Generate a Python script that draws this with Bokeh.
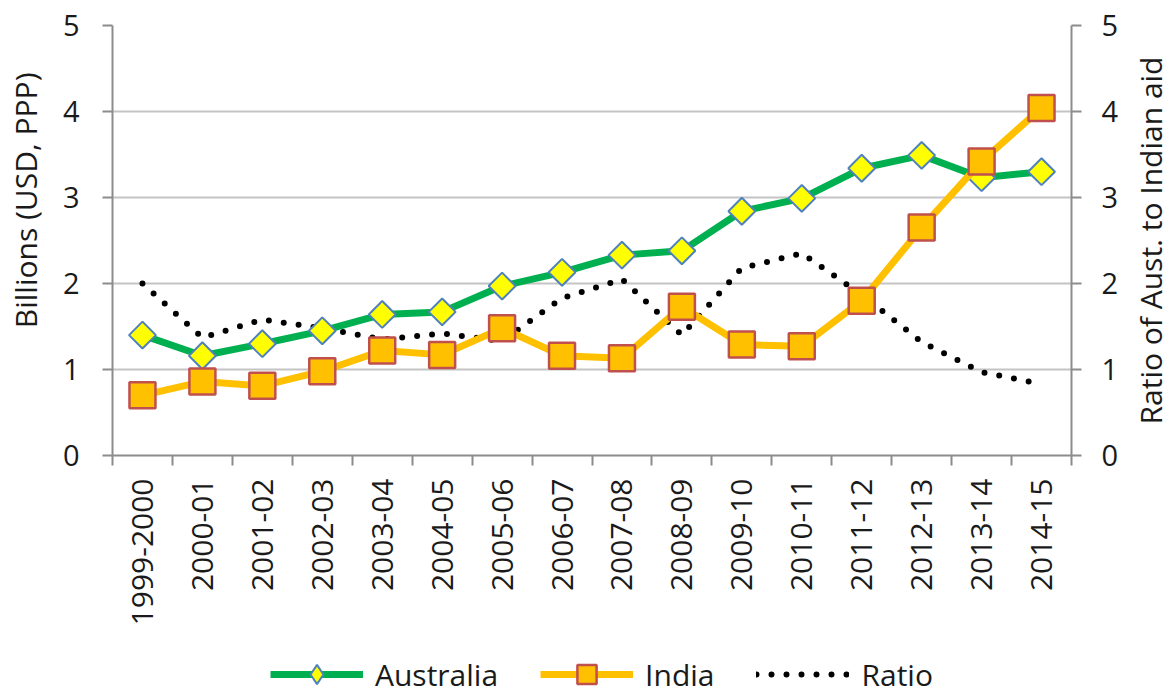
import math
from bokeh.plotting import figure
from bokeh.models import Range1d, LinearAxis, FixedTicker, Legend, LegendItem, Title
from bokeh.layouts import column, row
from bokeh.embed import file_html
from bokeh.resources import INLINE

years = ["1999-2000", "2000-01", "2001-02", "2002-03", "2003-04", "2004-05",
         "2005-06", "2006-07", "2007-08", "2008-09", "2009-10", "2010-11",
         "2011-12", "2012-13", "2013-14", "2014-15"]
australia = [1.40, 1.16, 1.30, 1.45, 1.64, 1.67, 1.97, 2.13, 2.33, 2.38,
             2.84, 2.99, 3.34, 3.49, 3.23, 3.30]
india = [0.70, 0.86, 0.81, 0.98, 1.22, 1.17, 1.48, 1.16, 1.13, 1.73,
         1.29, 1.27, 1.80, 2.65, 3.42, 4.04]
ratio = [2.00, 1.37, 1.58, 1.48, 1.35, 1.42, 1.33, 1.83, 2.05, 1.40,
         2.18, 2.35, 1.87, 1.32, 0.97, 0.83]
y_ticks = [0, 1, 2, 3, 4, 5]
left_title = "Billions (USD, PPP)"
right_title = "Ratio of Aust. to Indian aid"
series_names = ["Australia", "India", "Ratio"]

FONT = "Open Sans"
TXT = "#1a1a1a"
AXIS_C = "#8c8c8c"
GRID_C = "#c4c4c4"
GREEN = "#00b050"
ORANGE = "#ffc000"

n = len(years)
xs = [i + 0.5 for i in range(n)]

TOP, FRAME_H, BOTTOM = 25, 430, 198
MAIN_H = TOP + FRAME_H + BOTTOM
LEFT_W, RIGHT_W, LEG_H = 48, 42, 42


def bare(fig):
    fig.outline_line_color = None
    fig.xgrid.visible = False
    fig.ygrid.visible = False
    return fig


p = figure(frame_width=959, frame_height=FRAME_H, output_backend="svg", toolbar_location=None,
           x_range=Range1d(0, n), y_range=Range1d(0, 5),
           min_border_left=64, min_border_right=58, min_border_top=TOP,
           min_border_bottom=BOTTOM, y_axis_location=None, x_axis_location=None)
p.outline_line_color = None
p.background_fill_color = "white"
p.border_fill_color = "white"
p.extra_y_ranges = {"ratio": Range1d(0, 5)}

# x axis: labels at category centres, ticks between categories
xt = FixedTicker(ticks=xs, minor_ticks=list(range(n + 1)))
xaxis = LinearAxis(ticker=xt)
xaxis.major_label_overrides = {x: y for x, y in zip(xs, years)}
xaxis.major_label_orientation = math.pi / 2
xaxis.major_tick_out = 0
xaxis.major_tick_in = 0
xaxis.minor_tick_out = 10
xaxis.minor_tick_in = 0
xaxis.minor_tick_line_color = AXIS_C
xaxis.minor_tick_line_width = 2
xaxis.axis_line_color = AXIS_C
xaxis.axis_line_width = 2
xaxis.major_label_text_font = FONT
xaxis.major_label_text_font_size = "30px"
xaxis.major_label_text_color = TXT
xaxis.major_label_standoff = 13
p.add_layout(xaxis, "below")

yl = LinearAxis(ticker=FixedTicker(ticks=y_ticks))
yr = LinearAxis(ticker=FixedTicker(ticks=y_ticks), y_range_name="ratio")
for ax in (yl, yr):
    ax.axis_line_color = AXIS_C
    ax.axis_line_width = 2
    ax.major_tick_line_color = AXIS_C
    ax.major_tick_line_width = 2
    ax.major_tick_out = 10
    ax.major_tick_in = 0
    ax.minor_tick_line_color = None
    ax.major_label_text_font = FONT
    ax.major_label_text_font_size = "29px"
    ax.major_label_text_color = TXT
yl.major_label_standoff = 23
yr.major_label_standoff = 20
p.add_layout(yl, "left")
p.add_layout(yr, "right")

p.ygrid.grid_line_color = GRID_C
p.ygrid.grid_line_width = 2
p.ygrid.ticker = FixedTicker(ticks=y_ticks[1:])
p.xgrid.grid_line_color = None

ratio_style = dict(line_color="black", line_width=6, line_dash="0 15", line_cap="round")
aus_line = dict(line_color=GREEN, line_width=7, line_join="round")
aus_mark = dict(marker="square", size=19, angle=math.pi / 4,
                fill_color="#ffff00", line_color="#4f81bd", line_width=2)
aus_leg_mark = dict(marker="diamond", size=19,
                    fill_color="#ffff00", line_color="#4f81bd", line_width=2)
ind_line = dict(line_color=ORANGE, line_width=7, line_join="round")
ind_mark = dict(marker="square", size=26, fill_color=ORANGE,
                line_color="#c0504d", line_width=2.5)

p.line(xs, ratio, y_range_name="ratio", **ratio_style)
p.line(xs, australia, **aus_line)
p.scatter(xs, australia, **aus_mark)
p.line(xs, india, **ind_line)
p.scatter(xs, india, **ind_mark)

title_style = dict(text_font=FONT, text_font_size="30px", text_font_style="normal",
                   text_color=TXT)

# left axis title (reads bottom-to-top)
p4 = bare(figure(width=LEFT_W, height=MAIN_H, output_backend="svg", toolbar_location=None,
                 min_border_left=0, min_border_right=0, min_border_top=TOP,
                 min_border_bottom=BOTTOM, x_axis_location=None, y_axis_location=None))
p4.add_layout(Title(text=left_title, align="right", offset=47, vertical_align="bottom",
                    standoff=6, **title_style), "left")

# right axis title (reads bottom-to-top)
p3 = bare(figure(width=RIGHT_W, height=MAIN_H, output_backend="svg", toolbar_location=None,
                 min_border_left=0, min_border_right=0, min_border_top=TOP,
                 min_border_bottom=BOTTOM, x_axis_location=None, y_axis_location=None))
p3.add_layout(Title(text=right_title, align="center", vertical_align="middle",
                    standoff=0, **title_style), "left")

# legend strip: proxy renderers of the same series, kept outside the visible range
p2 = bare(figure(width=LEFT_W + 64 + 959 + 58 + RIGHT_W, height=LEG_H, output_backend="svg",
                 toolbar_location=None, min_border=0, x_axis_location=None,
                 y_axis_location=None, x_range=Range1d(-3, -2), y_range=Range1d(-3, -2)))
la = p2.line(xs, australia, **aus_line)
ma = p2.scatter(xs, australia, **aus_leg_mark)
li = p2.line(xs, india, **ind_line)
mi = p2.scatter(xs, india, **ind_mark)
lr = p2.line(xs, ratio, **ratio_style)
legend = Legend(items=[LegendItem(label=series_names[0], renderers=[la, ma]),
                       LegendItem(label=series_names[1], renderers=[li, mi]),
                       LegendItem(label=series_names[2], renderers=[lr])],
                location=(270, -3), orientation="horizontal",
                glyph_width=93, glyph_height=48, label_standoff=12, spacing=42,
                padding=0, margin=0, border_line_color=None,
                background_fill_alpha=0,
                label_text_font=FONT, label_text_font_size="30px",
                label_text_color=TXT)
p2.add_layout(legend, "center")

layout = column(row(p4, p, p3, spacing=0), p2, spacing=0)
open("out.html", "w").write(file_html(layout, INLINE))
